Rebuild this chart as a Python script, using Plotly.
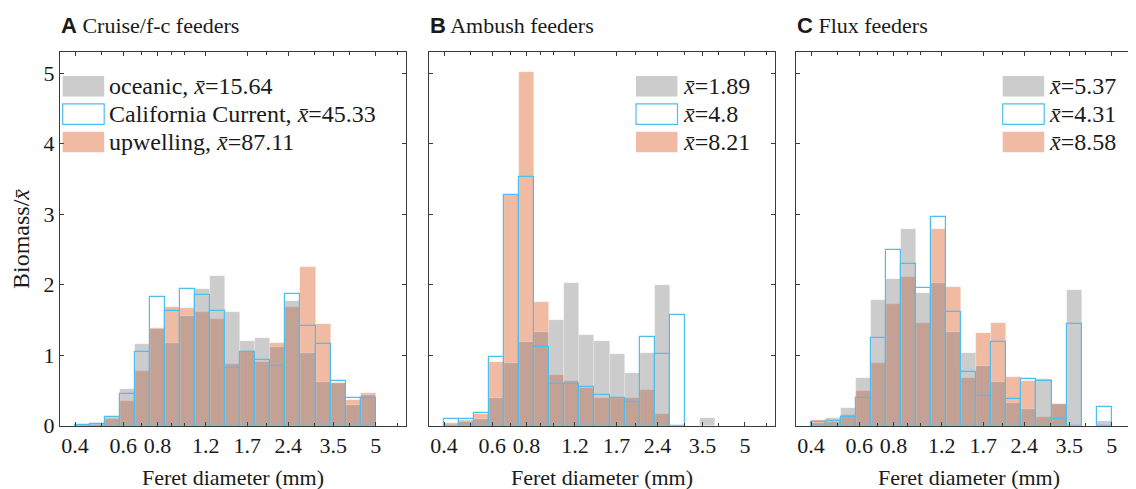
import plotly.graph_objects as go

# ---------------- data ----------------
bin_edges = [0.4, 0.45384, 0.51493, 0.58425, 0.66289, 0.75211, 0.85335, 0.96822,
             1.09855, 1.24642, 1.41419, 1.60455, 1.82053, 2.06558, 2.34361, 2.65907,
             3.01699, 3.42309, 3.88385, 4.40662, 5.0]

tick_vals = [0.4, 0.6, 0.8, 1.2, 1.7, 2.4, 3.5, 5]
tick_text = ["0.4", "0.6", "0.8", "1.2", "1.7", "2.4", "3.5", "5"]
minor_vals = [0.5, 0.7, 0.9, 1, 2, 3, 4, 6]

panel_letters = ["A", "B", "C"]
panel_titles = ["Cruise/f-c feeders", "Ambush feeders", "Flux feeders"]

# Panel A: cruise / feeding-current feeders
oceanic_A = [0, 0.03, 0.13, 0.52, 1.155, 1.37, 1.17, 1.56, 1.935, 2.125,
             1.61, 1.2, 1.25, 1.117, 1.775, 1.03, 0.62, 0.61, 0.29, 0.43]
calcur_A = [0.01, 0.02, 0.12, 0.445, 1.04, 1.83, 1.62, 1.94, 1.855, 1.62,
            0.814, 1.04, 0.932, 0.842, 1.865, 1.41, 1.16, 0.634, 0.40, 0.39]
upwell_A = [0, 0.01, 0.10, 0.355, 0.776, 1.38, 1.685, 1.666, 1.61, 1.52,
            0.875, 1.06, 0.90, 1.17, 1.68, 2.25, 1.443, 0.60, 0.36, 0.47]

# Panel B: ambush feeders
oceanic_B = [0, 0.08, 0.095, 0.39, 0.894, 1.19, 1.33, 1.5, 2.03, 1.28,
             1.2, 1.02, 0.75, 1.036, 2.0, 0, 0, 0.11, 0, 0]
calcur_B = [0.09, 0.09, 0.175, 0.97, 3.27, 3.53, 1.12, 0.587, 0.587, 0.544,
            0.43, 0.39, 0.33, 1.26, 1.02, 1.575, 0, 0, 0, 0]
upwell_B = [0.033, 0.047, 0.166, 0.91, 3.27, 5.01, 1.75, 0.714, 0.63, 0.53,
            0.40, 0.40, 0.39, 0.506, 0.166, 0, 0, 0, 0, 0]

# Panel C: flux feeders
oceanic_C = [0.04, 0.104, 0.246, 0.672, 1.78, 2.087, 2.787, 1.888, 2.02, 1.335,
             1.03, 0.847, 0.62, 0.327, 0.23, 0.667, 0.31, 1.92, 0, 0.066]
calcur_C = [0.047, 0.066, 0.123, 0.388, 1.24, 2.494, 2.29, 1.95, 2.967, 1.61,
            0.76, 0.416, 1.188, 0.38, 0.667, 0.634, 0.1, 1.443, 0, 0.26]
upwell_C = [0.085, 0.057, 0.15, 0.497, 0.894, 1.727, 2.115, 1.453, 2.79, 1.973,
            0.672, 1.316, 1.453, 0.69, 0.64, 0.128, 0.31, 0, 0, 0]

series_names = ["oceanic", "California Current", "upwelling"]
mean_A = ["15.64", "45.33", "87.11"]
mean_B = ["1.89", "4.8", "8.21"]
mean_C = ["5.37", "4.31", "8.58"]

oceanic = [oceanic_A, oceanic_B, oceanic_C]
calcur = [calcur_A, calcur_B, calcur_C]
upwell = [upwell_A, upwell_B, upwell_C]
means = [mean_A, mean_B, mean_C]

# ---------------- style ----------------
OFF = 8  # page body margin
PAGE_W, PAGE_H = 1136, 489
W, H = PAGE_W - OFF, PAGE_H - OFF
SERIF = "Liberation Serif, Times New Roman, Times, serif"
TXT = "#1a1a1a"
AX = "#3a3a3a"
GRAY_FILL = "rgba(128,128,128,0.4)"
ORANGE_FILL = "rgba(217,83,25,0.4)"
BLUE_LINE = "#4DBEEE"
TICK_SIZE = 22
LEG_SIZE = 24

# page-pixel layout of the three axes
ax_left_px = [60, 429, 796]
ax_right_px = [405.7, 775, 1136]
top_px, bot_px = 52, 425.7
panel_w = 405.7 - 60

lo_log = -0.452786
hi_log = 0.808662
px_per_dec = panel_w / (hi_log - lo_log)
hi_logs = [hi_log, hi_log, lo_log + (1136 - 796) / px_per_dec]

def px(x):
    return (x - OFF) / W

def py(y):
    return 1 - (y - OFF) / H

centers = [(bin_edges[i] + bin_edges[i + 1]) / 2 for i in range(len(bin_edges) - 1)]
widths = [bin_edges[i + 1] - bin_edges[i] for i in range(len(bin_edges) - 1)]

def nz(v):
    return [None if a == 0 else a for a in v]

fig = go.Figure()
for p in range(3):
    xa = "x" if p == 0 else f"x{p+1}"
    ya = "y" if p == 0 else f"y{p+1}"
    fig.add_trace(go.Bar(x=centers, y=nz(upwell[p]), width=widths, xaxis=xa, yaxis=ya,
                         marker=dict(color=ORANGE_FILL,
                                     line=dict(color="rgba(255,255,255,0.45)", width=0.6)),
                         name=series_names[2], showlegend=False))
    fig.add_trace(go.Bar(x=centers, y=nz(oceanic[p]), width=widths, xaxis=xa, yaxis=ya,
                         marker=dict(color=GRAY_FILL,
                                     line=dict(color="rgba(255,255,255,0.45)", width=0.6)),
                         name=series_names[0], showlegend=False))
    fig.add_trace(go.Bar(x=centers, y=nz(calcur[p]), width=widths, xaxis=xa, yaxis=ya,
                         marker=dict(color="rgba(0,0,0,0)",
                                     line=dict(color=BLUE_LINE, width=1.2)),
                         name=series_names[1], showlegend=False))

layout = dict(
    width=W, height=H, margin=dict(l=0, r=0, t=0, b=0),
    paper_bgcolor="white", plot_bgcolor="white",
    barmode="overlay", bargap=0, showlegend=False,
    font=dict(family=SERIF, size=TICK_SIZE, color=TXT),
)

for p in range(3):
    xk = "xaxis" if p == 0 else f"xaxis{p+1}"
    yk = "yaxis" if p == 0 else f"yaxis{p+1}"
    ya = "y" if p == 0 else f"y{p+1}"
    xa = "x" if p == 0 else f"x{p+1}"
    layout[xk] = dict(
        type="log", domain=[px(ax_left_px[p]), min(1.0, px(ax_right_px[p]))],
        range=[lo_log, hi_logs[p]], anchor=ya,
        tickmode="array", tickvals=tick_vals, ticktext=tick_text,
        ticks="inside", ticklen=4, tickwidth=1, tickcolor=AX,
        showline=True, linecolor=AX, linewidth=1, mirror="ticks",
        showgrid=False, zeroline=False, automargin=False,
        tickfont=dict(family=SERIF, size=TICK_SIZE, color=TXT),
        minor=dict(tickmode="array", tickvals=minor_vals, ticks="inside",
                   ticklen=3, tickwidth=1, tickcolor=AX, showgrid=False),
    )
    layout[yk] = dict(
        domain=[py(bot_px), py(top_px)], range=[0, 5.3], anchor=xa,
        tickmode="array", tickvals=[0, 1, 2, 3, 4, 5],
        ticks="inside", ticklen=4, tickwidth=1, tickcolor=AX,
        showline=True, linecolor=AX, linewidth=1,
        mirror=("ticks" if p < 2 else False),
        showgrid=False, zeroline=False, automargin=False,
        showticklabels=(p == 0),
        tickfont=dict(family=SERIF, size=TICK_SIZE, color=TXT),
    )

fig.update_layout(**layout)

annotations = []
shapes = []
for p in range(3):
    annotations.append(dict(
        xref="paper", yref="paper", x=px(ax_left_px[p] - 1), y=py(25.5),
        xanchor="left", yanchor="middle", showarrow=False,
        text=f'<span style="font-family:Liberation Sans, Arial, sans-serif"><b>{panel_letters[p]}</b></span> {panel_titles[p]}',
        font=dict(family=SERIF, size=22, color=TXT)))
    annotations.append(dict(
        xref="paper", yref="paper",
        x=px(ax_left_px[p] + panel_w / 2), y=py(477),
        xanchor="center", yanchor="middle", showarrow=False,
        text="Feret diameter (mm)", font=dict(family=SERIF, size=TICK_SIZE, color=TXT)))

annotations.append(dict(
    xref="paper", yref="paper", x=px(21), y=py(239), textangle=-90,
    xanchor="center", yanchor="middle", showarrow=False,
    text="Biomass/<i>x̄</i>", font=dict(family=SERIF, size=24, color=TXT)))

sw_left = [62.7, 636, 1002.7]
row_y = [86.3, 114.2, 142.0]
sw_w, sw_h = 41.5, 20.5
fills = [GRAY_FILL, "rgba(255,255,255,0)", ORANGE_FILL]
lines = ["rgba(255,255,255,0)", BLUE_LINE, "rgba(255,255,255,0)"]
for p in range(3):
    for r in range(3):
        x0 = sw_left[p]
        yc = row_y[r]
        shapes.append(dict(type="rect", xref="paper", yref="paper",
                           x0=px(x0), x1=px(x0 + sw_w),
                           y0=py(yc + sw_h / 2), y1=py(yc - sw_h / 2),
                           fillcolor=fills[r], line=dict(color=lines[r], width=1.2)))
        if p == 0:
            label = f"{series_names[r]}, <i>x̄</i>={means[p][r]}"
        else:
            label = f"<i>x̄</i>={means[p][r]}"
        annotations.append(dict(
            xref="paper", yref="paper", x=px(x0 + sw_w + 3), y=py(yc),
            xanchor="left", yanchor="middle", showarrow=False,
            text=label, font=dict(family=SERIF, size=LEG_SIZE, color=TXT)))

fig.update_layout(annotations=annotations, shapes=shapes)
fig.write_html("out.html")
